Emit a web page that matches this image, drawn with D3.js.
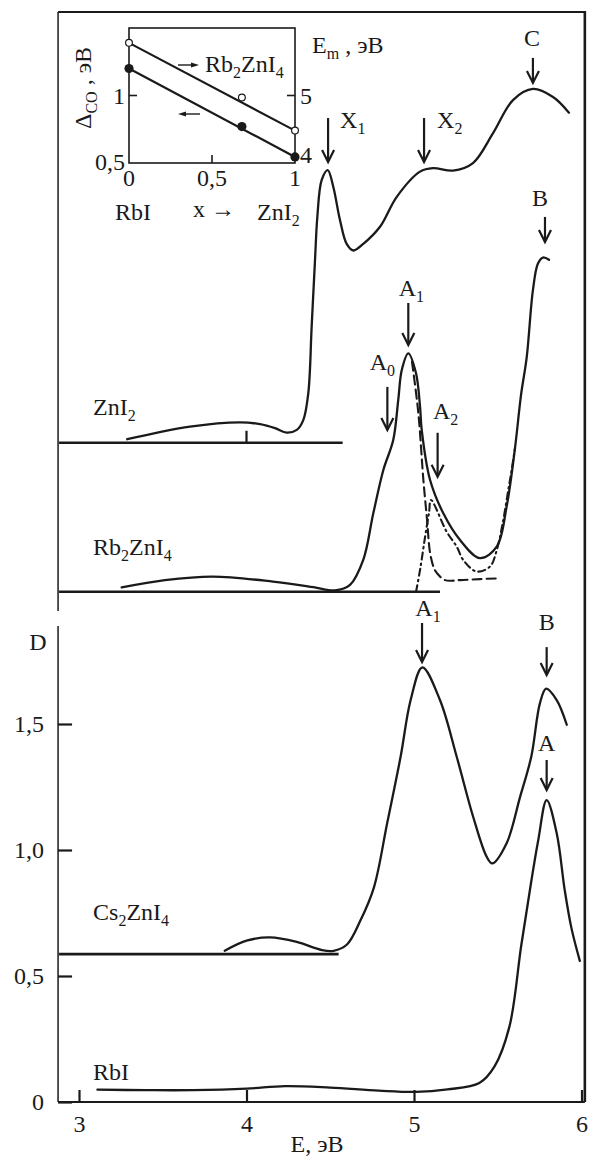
<!DOCTYPE html>
<html>
<head>
<meta charset="utf-8">
<script src="https://cdn.jsdelivr.net/npm/d3@7"></script>
<style>
body { margin: 0; background: #fff; }
text { font-family: "Liberation Serif", "Times New Roman", serif; fill: #1a1a1a; }
</style>
</head>
<body>
<script>
var W = 592, H = 1158;
var INK = "#1a1a1a";

// main spectra: [E (eV), D]; the two upper curves sit on shifted baselines of the same D scale
var RBI = [[3.11,0.049],[3.4,0.047],[3.68,0.047],[4.0,0.053],[4.23,0.063],[4.5,0.057],[4.79,0.045],[5.01,0.04],[5.2,0.05],[5.39,0.075],[5.48,0.14],[5.57,0.30],[5.64,0.62],[5.70,0.875],[5.742,1.04],[5.792,1.198],[5.852,1.066],[5.90,0.84],[5.94,0.69],[5.99,0.56]];
var CS2ZNI4 = [[3.87,0.60],[4.0,0.64],[4.14,0.653],[4.3,0.635],[4.45,0.603],[4.52,0.60],[4.6,0.625],[4.68,0.72],[4.76,0.85],[4.84,1.107],[4.92,1.37],[4.98,1.595],[5.05,1.725],[5.155,1.595],[5.255,1.37],[5.354,1.13],[5.434,0.973],[5.467,0.947],[5.553,1.027],[5.633,1.21],[5.70,1.37],[5.752,1.583],[5.789,1.64],[5.852,1.595],[5.912,1.497]];
var RB2ZNI4 = [[3.255,2.042],[3.513,2.071],[3.80,2.085],[4.158,2.065],[4.40,2.043],[4.528,2.030],[4.618,2.052],[4.697,2.151],[4.757,2.336],[4.817,2.508],[4.876,2.627],[4.906,2.786],[4.927,2.905],[4.966,2.971],[5.012,2.892],[5.036,2.759],[5.046,2.667],[5.096,2.468],[5.175,2.336],[5.275,2.230],[5.394,2.158],[5.494,2.204],[5.553,2.363],[5.603,2.595],[5.639,2.806],[5.673,2.956],[5.710,3.222],[5.740,3.327],[5.770,3.351],[5.806,3.342]];
var RB2ZNI4_A1 = [[4.988,2.937],[5.026,2.734],[5.056,2.468],[5.078,2.310],[5.096,2.179],[5.119,2.119],[5.137,2.099],[5.185,2.071],[5.275,2.071],[5.394,2.075],[5.501,2.078]];
var RB2ZNI4_A2 = [[5.012,2.024],[5.036,2.111],[5.066,2.242],[5.090,2.341],[5.101,2.389],[5.195,2.263],[5.255,2.204],[5.294,2.151],[5.374,2.105],[5.454,2.125],[5.494,2.190],[5.533,2.310],[5.563,2.429],[5.583,2.508],[5.603,2.595]];
var ZNI2 = [[3.288,2.630],[3.663,2.680],[3.961,2.697],[4.081,2.690],[4.170,2.674],[4.240,2.656],[4.300,2.667],[4.339,2.706],[4.369,2.813],[4.389,3.077],[4.409,3.341],[4.423,3.513],[4.449,3.659],[4.485,3.698],[4.518,3.632],[4.558,3.500],[4.598,3.405],[4.638,3.379],[4.697,3.405],[4.797,3.473],[4.897,3.592],[5.036,3.692],[5.113,3.706],[5.233,3.696],[5.352,3.726],[5.472,3.845],[5.591,3.976],[5.710,4.020],[5.830,3.988],[5.925,3.926]];

// zero lines of each curve: D level and E where the line stops
var BASE_D = [2.616, 2.025, 0.587];
var BASE_END = [4.574, 5.155, 4.55];
var BASE_TICK_E = 4; // small mark on the ZnI2 zero line

// peak arrows: name, subscript, E and D of the arrow tip
var PEAK_NAMES = ["X", "X", "C", "B", "A", "A", "A", "A", "B", "A"];
var PEAK_SUBS = ["1", "2", "", "", "1", "0", "2", "1", "", ""];
var PEAK_E = [4.487, 5.060, 5.710, 5.782, 4.966, 4.841, 5.141, 5.048, 5.792, 5.792];
var PEAK_D = [3.730, 3.730, 4.044, 3.413, 3.004, 2.667, 2.481, 1.746, 1.694, 1.238];

// axis ticks
var D_TICKS = [0, 0.5, 1.0, 1.5];
var E_TICKS = [3, 4, 5, 6];

// inset: x (RbI -> ZnI2), Delta_CO (eV, left) and E_m (eV, right)
var INSET_X = [0, 0.68, 1];
var INSET_DELTA = [1.20, 0.77, 0.545];
var INSET_EM = [5.78, 4.97, 4.48];
var INSET_X_TICKS = [0, 0.5, 1];
var INSET_L_TICKS = [0.5, 1];
var INSET_R_TICKS = [4, 5];

var svg = d3.select("body").append("svg").attr("width", W).attr("height", H);

var x = d3.scaleLinear().domain([3, 6]).range([79, 581.5]);
var y = d3.scaleLinear().domain([0, 1.5]).range([1102, 724]);

var line = d3.line().x(function (d) { return x(d[0]); }).y(function (d) { return y(d[1]); }).curve(d3.curveCatmullRom.alpha(0.5));

// text with subscripts: parts that start with "_" are subscripts
function label(sel, px, py, parts, anchor, size) {
  size = size || 24;
  var t = sel.append("text").attr("x", px).attr("y", py).attr("text-anchor", anchor || "start").style("font-size", size + "px");
  var down = false;
  parts.forEach(function (p) {
    if (p.charAt(0) === "_") {
      t.append("tspan").text(p.slice(1)).attr("dy", down ? 0 : 6).style("font-size", Math.round(size * 0.68) + "px");
      down = true;
    } else {
      t.append("tspan").text(p).attr("dy", down ? -6 : 0);
      down = false;
    }
  });
  return t;
}

// frame
var E_LEFT = 2.875, E_RIGHT = 6.02, D_TOP = 4.325;
var frame = svg.append("g").attr("stroke", INK).attr("fill", "none");
frame.append("line").attr("x1", x(E_LEFT)).attr("x2", x(E_RIGHT)).attr("y1", y(D_TOP)).attr("y2", y(D_TOP)).attr("stroke-width", 2);
frame.append("line").attr("x1", x(E_RIGHT)).attr("x2", x(E_RIGHT)).attr("y1", y(D_TOP) - 1).attr("y2", y(0)).attr("stroke-width", 2.6);
frame.append("line").attr("x1", x(E_LEFT)).attr("x2", x(E_LEFT)).attr("y1", y(D_TOP)).attr("y2", y(1.948)).attr("stroke-width", 1.5);
frame.append("line").attr("x1", x(E_LEFT)).attr("x2", x(E_LEFT)).attr("y1", y(1.889)).attr("y2", y(0)).attr("stroke-width", 1.5);

// axes
var yAxis = svg.append("g").attr("transform", "translate(" + x(E_LEFT) + ",0)")
  .call(d3.axisLeft(y).tickValues(D_TICKS).tickSize(-14).tickSizeOuter(0).tickPadding(14)
    .tickFormat(function (d) { return d === 0 ? "0" : d.toFixed(1).replace(".", ","); }));
yAxis.select(".domain").remove();
yAxis.selectAll("line").attr("stroke", INK).attr("stroke-width", 2.2);
yAxis.selectAll("text").attr("font-family", null).style("font-size", "24px");

var xAxis = svg.append("g").attr("transform", "translate(0," + y(0) + ")")
  .call(d3.axisBottom(x).tickValues(E_TICKS).tickSize(-12).tickSizeOuter(0).tickPadding(13).tickFormat(d3.format("d")));
xAxis.select(".domain").remove();
xAxis.selectAll("line").attr("stroke", INK).attr("stroke-width", 2.2);
xAxis.selectAll("text").attr("font-family", null).style("font-size", "24px");

svg.append("line").attr("x1", x(E_LEFT)).attr("x2", x(E_RIGHT)).attr("y1", y(0)).attr("y2", y(0)).attr("stroke", INK).attr("stroke-width", 2.2);

label(svg, 38, 650, ["D"], "middle");
label(svg, 317, 1152, ["E, эВ"], "middle");

// zero lines of the shifted curves
var bases = svg.append("g").attr("stroke", INK).attr("stroke-width", 2.6);
BASE_D.forEach(function (d, i) {
  bases.append("line").attr("x1", x(E_LEFT) + 1).attr("x2", x(BASE_END[i])).attr("y1", y(d)).attr("y2", y(d));
});
bases.append("line").attr("x1", x(BASE_TICK_E)).attr("x2", x(BASE_TICK_E)).attr("y1", y(BASE_D[0])).attr("y2", y(BASE_D[0]) - 12).attr("stroke-width", 2.2);

// curve labels
var nameParts = [["ZnI", "_2"], ["Rb", "_2", "ZnI", "_4"], ["Cs", "_2", "ZnI", "_4"], ["RbI"]];
var nameD = [2.726, 2.172, 0.722, 0.087];
nameParts.forEach(function (p, i) { label(svg, x(3.084), y(nameD[i]), p, "start"); });

// curves
var curves = svg.append("g").attr("fill", "none").attr("stroke", INK).attr("stroke-width", 2.3).attr("stroke-linecap", "round");
[ZNI2, RB2ZNI4, CS2ZNI4, RBI].forEach(function (s) { curves.append("path").attr("d", line(s)); });
curves.append("path").attr("d", line(RB2ZNI4_A1)).attr("stroke-dasharray", "9,5").attr("stroke-width", 2.1);
curves.append("path").attr("d", line(RB2ZNI4_A2)).attr("stroke-dasharray", "7,4,1.5,4").attr("stroke-width", 2.1);

// peak arrows
var ARROW_LEN = [44, 44, 25, 25, 42, 43, 44, 39, 28, 30];
var LABEL_DX = [12, 13, -1, -5, 3, -5, 8, 6, 0, 0];
var LABEL_DY = [2, 2, -20, -19, -15, -25, -22, -15, -25, -17];
var LABEL_ANCHOR = ["start", "start", "middle", "middle", "middle", "middle", "middle", "middle", "middle", "middle"];
var arrows = svg.append("g");
PEAK_E.forEach(function (e, i) {
  var px = x(e), tip = y(PEAK_D[i]), top = tip - ARROW_LEN[i];
  arrows.append("line").attr("x1", px).attr("x2", px).attr("y1", top).attr("y2", tip - 1)
    .attr("stroke", INK).attr("stroke-width", 2.2);
  arrows.append("path").attr("d", "M" + (px - 6) + "," + (tip - 12) + "L" + px + "," + tip + "L" + (px + 6) + "," + (tip - 12))
    .attr("fill", "none").attr("stroke", INK).attr("stroke-width", 2.2);
  var parts = [PEAK_NAMES[i]];
  if (PEAK_SUBS[i]) parts.push("_" + PEAK_SUBS[i]);
  label(arrows, px + LABEL_DX[i], top + LABEL_DY[i] + 8, parts, LABEL_ANCHOR[i]);
});

// inset
var xi = d3.scaleLinear().domain([0, 1]).range([129, 295]);
var yl = d3.scaleLinear().domain([0.5, 1.5]).range([163, 28]);
var yr = d3.scaleLinear().domain([4, 6]).range([163, 28]);
var inset = svg.append("g");
inset.append("rect").attr("x", xi(0)).attr("y", yl(1.5)).attr("width", xi(1) - xi(0)).attr("height", yl(0.5) - yl(1.5))
  .attr("fill", "none").attr("stroke", INK).attr("stroke-width", 1.6);

INSET_X_TICKS.forEach(function (t) {
  if (t > 0 && t < 1) inset.append("line").attr("x1", xi(t)).attr("x2", xi(t)).attr("y1", yl(0.5)).attr("y2", yl(0.5) - 8).attr("stroke", INK).attr("stroke-width", 1.6);
  label(inset, xi(t), 186, [String(t).replace(".", ",")], "middle");
});
INSET_L_TICKS.forEach(function (t) {
  if (t > 0.5) inset.append("line").attr("x1", xi(0)).attr("x2", xi(0) + 8).attr("y1", yl(t)).attr("y2", yl(t)).attr("stroke", INK).attr("stroke-width", 1.6);
  label(inset, 125, yl(t) + (t === 0.5 ? 7 : 8), [String(t).replace(".", ",")], "end");
});
INSET_R_TICKS.forEach(function (t) {
  if (t > 4) inset.append("line").attr("x1", xi(1) - 8).attr("x2", xi(1)).attr("y1", yr(t)).attr("y2", yr(t)).attr("stroke", INK).attr("stroke-width", 1.6);
  label(inset, 300, yr(t) + (t === 4 ? 0 : 8), [String(t)], "start");
});

var n = INSET_X.length - 1;
inset.append("line").attr("x1", xi(INSET_X[0])).attr("y1", yr(INSET_EM[0])).attr("x2", xi(INSET_X[n])).attr("y2", yr(INSET_EM[n]))
  .attr("stroke", INK).attr("stroke-width", 2.2);
inset.append("line").attr("x1", xi(INSET_X[0])).attr("y1", yl(INSET_DELTA[0])).attr("x2", xi(INSET_X[n])).attr("y2", yl(INSET_DELTA[n]))
  .attr("stroke", INK).attr("stroke-width", 2.2);
inset.selectAll("circle.em").data(INSET_X).enter().append("circle").attr("class", "em")
  .attr("cx", function (d) { return xi(d); }).attr("cy", function (d, i) { return yr(INSET_EM[i]); })
  .attr("r", 3.4).attr("fill", "#fff").attr("stroke", INK).attr("stroke-width", 1.2);
inset.selectAll("circle.dl").data(INSET_X).enter().append("circle").attr("class", "dl")
  .attr("cx", function (d) { return xi(d); }).attr("cy", function (d, i) { return yl(INSET_DELTA[i]); })
  .attr("r", 4.6).attr("fill", INK);

// small arrows telling which axis each line uses
function smallArrow(x1, x2, py) {
  var dir = x2 > x1 ? 1 : -1;
  inset.append("line").attr("x1", x1).attr("x2", x2 - dir * 6).attr("y1", py).attr("y2", py).attr("stroke", INK).attr("stroke-width", 1.4);
  inset.append("path").attr("d", "M" + x2 + "," + py + "L" + (x2 - dir * 8) + "," + (py - 2.6) + "L" + (x2 - dir * 8) + "," + (py + 2.6) + "Z").attr("fill", INK);
}
smallArrow(178, 199, 65);
smallArrow(200, 178, 114);

label(inset, 205, 72, ["Rb", "_2", "ZnI", "_4"], "start");
label(inset, 312, 53, ["E", "_m", " , эВ"], "start");
label(inset, 115, 220, ["RbI"], "start");
label(inset, 193, 217, ["x →"], "start");
label(inset, 257, 220, ["ZnI", "_2"], "start");
var yl_lab = label(inset, 0, 0, ["Δ", "_CO", " , эВ"], "middle");
yl_lab.attr("transform", "translate(91,88) rotate(-90)");
</script>
</body>
</html>
